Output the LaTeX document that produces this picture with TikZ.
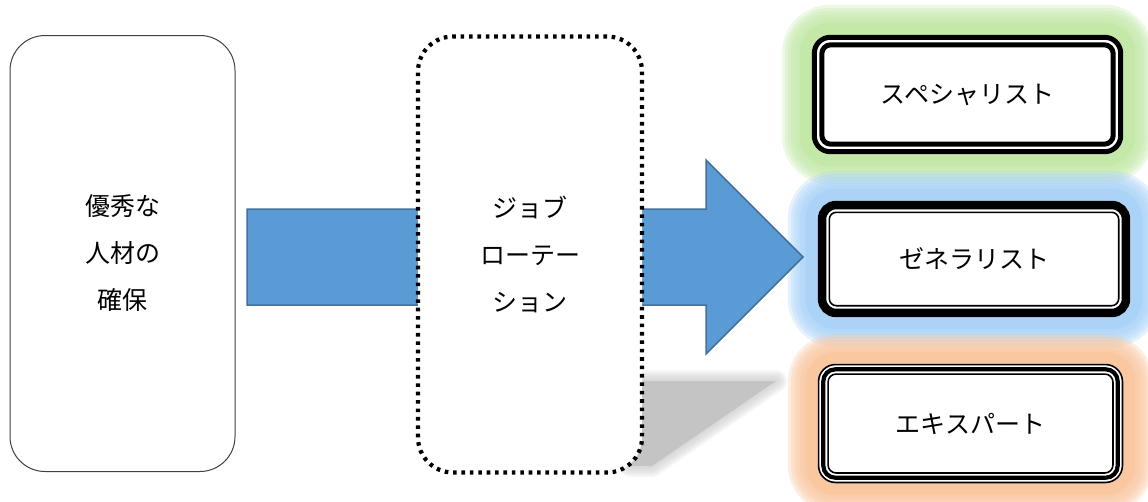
\documentclass[tikz,border=0pt]{standalone}
\usepackage{fontspec}
\newfontfamily\jp{Noto Sans CJK JP}
\usetikzlibrary{calc}

\definecolor{arrowblue}{HTML}{5B9BD5}
\definecolor{arrowedge}{HTML}{41719C}
\definecolor{glowgreen}{HTML}{C3E8A8}
\definecolor{glowblue}{HTML}{AAD3F7}
\definecolor{gloworange}{HTML}{F9C7A0}
\definecolor{shadowgray}{HTML}{C4C4C4}
\definecolor{edgegray}{HTML}{404040}

\pgfdeclarelayer{background}
\pgfsetlayers{background,main}

% soft coloured halo around a node: solid core plus fading outer bands
\newcommand\glowaround[2]{%
  \fill[#2, rounded corners=30pt] ($(#1.north west)-(12,12)$) rectangle ($(#1.south east)+(12,12)$);
  \foreach \r in {15,18,...,30}{%
    \pgfmathsetmacro\rc{18+\r}%
    \fill[#2, fill opacity=0.3, rounded corners=\rc pt]
      ($(#1.north west)-(\r,\r)$) rectangle ($(#1.south east)+(\r,\r)$);
  }%
}
% one outline line, set #2 inside the node's edge, #3 wide, corner radius #4
\newcommand\boxring[4]{%
  \draw[line width=#3pt, rounded corners=#4pt]
    ($(#1.north west)+(#2,#2)$) rectangle ($(#1.south east)-(#2,#2)$);
}

\begin{document}
\begin{tikzpicture}[x=1pt,y=-1pt,
  jptext/.style={font=\jp\fontsize{25}{47}\selectfont, align=center, text=black},
  tallbox/.style={jptext, rectangle, rounded corners=35pt, fill=white,
    minimum width=#1, minimum height=436pt, inner sep=0pt},
  rolebox/.style={jptext, rectangle, rounded corners=18pt, fill=white, inner sep=0pt},
]
\useasboundingbox (0,0) rectangle (1148,501);

% main blocks
\node[tallbox=225pt, draw=edgegray, line width=1pt] (talent) at (122.5,253.5)
  {優秀な\\人材の\\確保};

% big block arrow behind the rotation box
\coordinate (a1) at (247,209);
\coordinate (a2) at (706,209);
\coordinate (a3) at (706,160);
\coordinate (tip) at (803,257);
\coordinate (a5) at (706,354);
\coordinate (a6) at (706,305);
\coordinate (a7) at (247,305);
\fill[arrowblue, draw=arrowedge, line width=1.5pt, line join=miter]
  (a1) -- (a2) -- (a3) -- (tip) -- (a5) -- (a6) -- (a7) -- cycle;

\node[tallbox=224pt, draw=black, line width=4.2pt, dash pattern=on 3.6pt off 4.8pt]
  (rotation) at (530,254.5) {ジョブ\\ローテー\\ション};

% career outcome boxes
\node[rolebox, minimum width=311pt, minimum height=119pt] (spec) at (967.5,94.5) {スペシャリスト};
\node[rolebox, minimum width=312pt, minimum height=116pt] (gen) at (974,259) {ゼネラリスト};
\node[rolebox, minimum width=305pt, minimum height=119pt] (expert) at (970.5,423.5) {エキスパート};

% double outline: two heavy lines
\boxring{spec}{2.5}{5}{16}
\boxring{spec}{10}{5}{9}
% heavy outer line with thin inner line
\boxring{gen}{4.25}{8.5}{14}
\boxring{gen}{11.5}{1.6}{7}
% thin / heavy / thin
\boxring{expert}{0.75}{1.6}{17}
\boxring{expert}{5.5}{4.2}{12}
\boxring{expert}{10.25}{1.6}{8}

\begin{pgfonlayer}{background}
  \glowaround{spec}{glowgreen}
  \glowaround{gen}{glowblue}
  \glowaround{expert}{gloworange}
  % soft cast shadow to the lower right of the rotation box
  \coordinate (s1) at (630,381);
  \coordinate (s2) at (776,381);
  \coordinate (s3) at (652,466);
  \coordinate (s4) at (630,466);
  \foreach \w in {22,19,16,13,10,7,4}{%
    \draw[shadowgray, line width=\w pt, opacity=0.13, line join=round]
      (s1) -- (s2) -- (s3) -- (s4) -- cycle;
  }
  \fill[shadowgray] (s1) -- (s2) -- (s3) -- (s4) -- cycle;
\end{pgfonlayer}
\end{tikzpicture}
\end{document}
